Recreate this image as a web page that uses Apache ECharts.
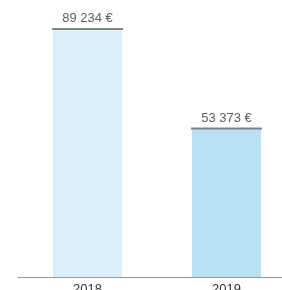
<!DOCTYPE html>
<html lang="fr">
<head>
    <meta charset="UTF-8">
    <script src="https://cdn.jsdelivr.net/npm/echarts@6/dist/echarts.min.js"></script>
    <title>Bars</title>
    <style>html,body{margin:0;padding:0;background:#fff;}</style>
</head>
<body>
<div id="main" style="width: 282px;height:290px;"></div>

<script type="text/javascript">
    // données
    var years = ['2018', '2019'];
    var amounts = [89234, 53373];
    var barColors = ['#dbeffa', '#b8e1f3'];

    function fmt(v) {
        return String(v).replace(/\B(?=(\d{3})+(?!\d))/g, ' ') + ' €';
    }

    var myChart = echarts.init(document.getElementById('main'));

    var option = {
        animation: false,
        grid: { left: 18, width: 278, top: -1, height: 278, outerBoundsMode: 'none', containLabel: false },
        xAxis: {
            type: 'category',
            data: years,
            axisLine: { lineStyle: { color: '#999', width: 1 } },
            axisTick: { alignWithLabel: true, length: 4, lineStyle: { color: '#bbb' } },
            axisLabel: { color: '#333', fontSize: 13, margin: 6, fontFamily: 'Arial, Liberation Sans' }
        },
        yAxis: {
            type: 'value',
            min: 0,
            max: 100000,
            show: false,
            splitLine: { show: false }
        },
        series: [
            {
                type: 'bar',
                barWidth: 69,
                data: amounts.map(function (v, i) {
                    return { value: v, itemStyle: { color: barColors[i] } };
                })
            },
            {
                type: 'scatter',
                symbol: 'rect',
                symbolSize: [71, 2],
                itemStyle: { color: '#666' },
                data: amounts,
                label: {
                    show: true,
                    position: 'top',
                    distance: 3,
                    color: '#333',
                    fontSize: 13,
                    fontFamily: 'Arial, Liberation Sans',
                    formatter: function (p) { return fmt(p.value); }
                },
                z: 5
            }
        ]
    };

    myChart.setOption(option);
</script>
</body>
</html>
